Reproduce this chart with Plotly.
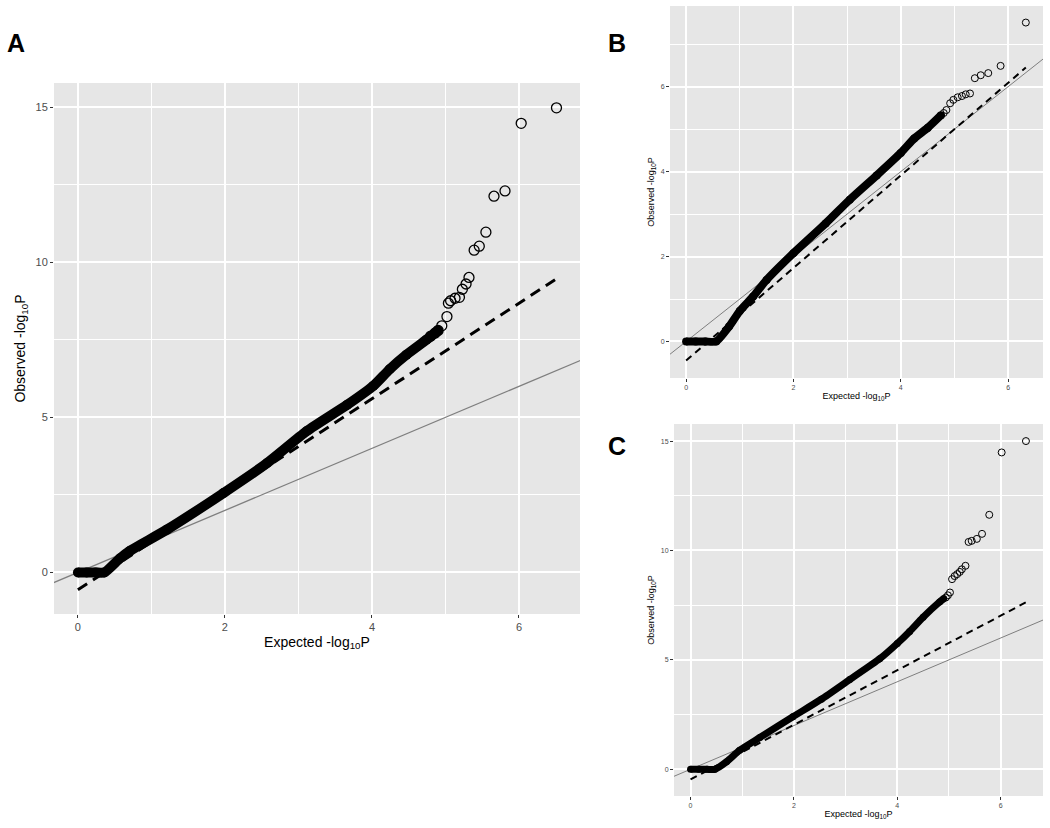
import plotly.graph_objects as go

# ---------------- data ----------------
# Panel A : dense bulk of the QQ points (band) and discrete tail points
a_band_x = [0.0, 0.12, 0.24, 0.36, 0.57, 0.71, 1.21, 1.98, 2.57, 3.11, 3.66, 4.02, 4.24, 4.47, 4.74, 4.90]
a_band_y = [0.0, 0.0, 0.0, 0.0, 0.45, 0.70, 1.38, 2.56, 3.52, 4.55, 5.40, 6.02, 6.55, 7.02, 7.50, 7.80]
a_tail_x = [4.80, 4.86, 4.90, 4.95, 5.02, 5.04, 5.07, 5.13, 5.19, 5.23, 5.28, 5.32, 5.39, 5.46, 5.55, 5.66, 5.81, 6.03, 6.51]
a_tail_y = [7.62, 7.72, 7.80, 7.95, 8.25, 8.68, 8.76, 8.84, 8.87, 9.13, 9.30, 9.51, 10.39, 10.52, 10.97, 12.13, 12.30, 14.48, 14.98]
a_fit_x = [0.0, 6.5]
a_fit_y = [-0.56, 9.45]

# Panel B
b_band_x = [0.0, 0.18, 0.36, 0.56, 0.80, 1.00, 1.25, 1.50, 2.00, 2.60, 3.05, 3.55, 4.00, 4.25, 4.50, 4.75]
b_band_y = [0.0, 0.0, 0.0, 0.0, 0.35, 0.72, 1.06, 1.45, 2.08, 2.78, 3.34, 3.91, 4.44, 4.78, 5.03, 5.33]
b_tail_x = [4.80, 4.85, 4.92, 4.98, 5.06, 5.14, 5.21, 5.29, 5.38, 5.49, 5.63, 5.86, 6.33]
b_tail_y = [5.38, 5.45, 5.61, 5.69, 5.75, 5.78, 5.82, 5.84, 6.20, 6.27, 6.32, 6.49, 7.51]
b_fit_x = [0.0, 6.33]
b_fit_y = [-0.45, 6.45]

# Panel C
c_band_x = [0.0, 0.16, 0.32, 0.47, 0.70, 0.95, 1.34, 1.98, 2.53, 3.08, 3.66, 4.00, 4.24, 4.50, 4.82, 4.90]
c_band_y = [0.0, 0.0, 0.0, 0.0, 0.35, 0.87, 1.45, 2.40, 3.20, 4.10, 5.05, 5.75, 6.30, 6.95, 7.65, 7.80]
c_tail_x = [4.94, 4.98, 5.02, 5.06, 5.11, 5.16, 5.21, 5.25, 5.32, 5.38, 5.44, 5.54, 5.64, 5.78, 6.02, 6.49]
c_tail_y = [7.85, 7.95, 8.08, 8.69, 8.83, 8.92, 9.02, 9.14, 9.30, 10.39, 10.44, 10.53, 10.76, 11.63, 14.48, 15.00]
c_fit_x = [0.0, 6.49]
c_fit_y = [-0.46, 7.63]

# reference line y = x (drawn across, clipped by the axes)
ref_x = [-1.0, 8.0]
ref_y = [-1.0, 8.0]

# axis ticks
x_ticks = [0, 2, 4, 6]
a_y_ticks = [0, 5, 10, 15]
b_y_ticks = [0, 2, 4, 6]
c_y_ticks = [0, 5, 10, 15]

PANEL_BG = "#E6E6E6"
FONT = "Arial, Liberation Sans, sans-serif"
W, H = 1050, 828

fig = go.Figure()

panels = [
    dict(xa="x", ya="y", band=(a_band_x, a_band_y), tail=(a_tail_x, a_tail_y), fit=(a_fit_x, a_fit_y),
         band_w=10, msize=10, mline=1.3, dash_w=3, dash="11px,7px", ref_w=1.3),
    dict(xa="x2", ya="y2", band=(b_band_x, b_band_y), tail=(b_tail_x, b_tail_y), fit=(b_fit_x, b_fit_y),
         band_w=8, msize=7, mline=1.0, dash_w=2, dash="7px,5px", ref_w=1.0),
    dict(xa="x3", ya="y3", band=(c_band_x, c_band_y), tail=(c_tail_x, c_tail_y), fit=(c_fit_x, c_fit_y),
         band_w=7, msize=7, mline=1.0, dash_w=2, dash="7px,5px", ref_w=1.0),
]

for p in panels:
    fig.add_trace(go.Scatter(x=ref_x, y=ref_y, mode="lines", xaxis=p["xa"], yaxis=p["ya"],
                             line=dict(color="#7F7F7F", width=p["ref_w"]), showlegend=False, hoverinfo="skip"))
    fig.add_trace(go.Scatter(x=p["fit"][0], y=p["fit"][1], mode="lines", xaxis=p["xa"], yaxis=p["ya"],
                             line=dict(color="black", width=p["dash_w"], dash=p["dash"]),
                             showlegend=False, hoverinfo="skip"))
    fig.add_trace(go.Scatter(x=p["band"][0], y=p["band"][1], mode="lines+markers", xaxis=p["xa"], yaxis=p["ya"],
                             line=dict(color="black", width=p["band_w"], shape="spline", smoothing=0.6),
                             marker=dict(symbol="circle", size=p["band_w"], color="black", line=dict(width=0)),
                             showlegend=False))
    fig.add_trace(go.Scatter(x=p["tail"][0], y=p["tail"][1], mode="markers", xaxis=p["xa"], yaxis=p["ya"],
                             marker=dict(symbol="circle-open", size=p["msize"], color="black",
                                         line=dict(width=p["mline"], color="black")),
                             showlegend=False))


def xdom(left, right):
    return [left / W, right / W]


def ydom(top, bottom):
    return [1 - bottom / H, 1 - top / H]


def axis_style(domain, rng, ticks, minor_dtick, minor_tick0, tick_font, major_w, minor_w, anchor, title, title_font, standoff):
    return dict(
        domain=domain, range=rng, anchor=anchor, automargin=False,
        tickmode="array", tickvals=ticks, ticktext=[str(t) for t in ticks],
        ticks="outside", ticklen=3, tickwidth=1, tickcolor="#333333",
        tickfont=dict(family=FONT, size=tick_font, color="#4D4D4D"),
        showgrid=True, gridcolor="white", gridwidth=major_w,
        minor=dict(tickmode="linear", tick0=minor_tick0, dtick=minor_dtick, showgrid=True,
                   gridcolor="white", gridwidth=minor_w, ticks=""),
        zeroline=False, showline=False,
        title=dict(text=title, font=dict(family=FONT, size=title_font, color="black"), standoff=standoff),
    )


xt = "Expected -log<sub>10</sub>P"
yt = "Observed -log<sub>10</sub>P"

fig.update_layout(
    width=W, height=H,
    margin=dict(l=0, r=0, t=0, b=0),
    paper_bgcolor="white", plot_bgcolor=PANEL_BG,
    xaxis=axis_style(xdom(54, 580), [-0.325, 6.83], x_ticks, 1, 1, 11, 2, 1, "y", xt, 14, 4),
    yaxis=axis_style(ydom(83, 614), [-1.34, 15.78], a_y_ticks, 5, 2.5, 11, 2, 1, "x", yt, 14, 6),
    xaxis2=axis_style(xdom(670, 1043), [-0.30, 6.65], x_ticks, 1, 1, 7, 1.5, 0.8, "y2", xt, 9, 2),
    yaxis2=axis_style(ydom(6, 378), [-0.86, 7.9], b_y_ticks, 1, 1, 7, 1.5, 0.8, "x2", yt, 9, 4),
    xaxis3=axis_style(xdom(674, 1043), [-0.32, 6.82], x_ticks, 1, 1, 7, 1.5, 0.8, "y3", xt, 9, 2),
    yaxis3=axis_style(ydom(424, 796), [-1.22, 15.78], c_y_ticks, 5, 2.5, 7, 1.5, 0.8, "x3", yt, 9, 4),
)

for label, px, py in [("A", 16, 43), ("B", 617, 43), ("C", 617, 446)]:
    fig.add_annotation(text="<b>%s</b>" % label, x=px / W, y=1 - py / H, xref="paper", yref="paper",
                       showarrow=False, xanchor="center", yanchor="middle",
                       font=dict(family=FONT, size=25, color="black"))

# remove the default 8px page margin so the figure fills the 1050x828 window exactly
fig.write_html("out.html", config={"displayModeBar": False},
               post_script="document.body.style.margin='0';document.body.style.overflow='hidden';")
